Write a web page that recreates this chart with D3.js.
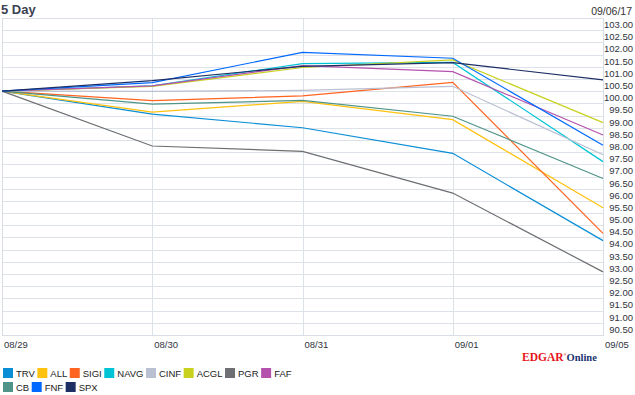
<!DOCTYPE html>
<html>
<head>
<meta charset="utf-8">
<script src="https://cdnjs.cloudflare.com/ajax/libs/d3/7.8.5/d3.min.js"></script>
<style>
  html, body { margin: 0; padding: 0; background: #fff; }
  svg { display: block; }
  text { font-family: "Liberation Sans", Arial, sans-serif; }
</style>
</head>
<body>
<svg id="chart" width="635" height="395"></svg>
<script>
// values, rebased to 100 on 08/29
var dates = ['08/29', '08/30', '08/31', '09/01', '09/05'];

var tickers = ['TRV', 'ALL', 'SIGI', 'NAVG', 'CINF', 'ACGL', 'PGR', 'FAF', 'CB', 'FNF', 'SPX'];

var trv  = [100, 99.06, 98.50, 97.45, 93.87],
    all  = [100, 99.14, 99.58, 98.83, 95.22],
    sigi = [100, 99.61, 99.81, 100.36, 94.17],
    navg = [100, 100.22, 101.13, 101.18, 97.11],
    cinf = [100, 99.99, 100.03, 100.20, 97.39],
    acgl = [100, 100.20, 100.97, 101.28, 98.71],
    pgr  = [100, 97.75, 97.53, 95.82, 92.59],
    faf  = [100, 100.22, 101.05, 100.80, 98.20],
    cb   = [100, 99.47, 99.62, 98.97, 96.42],
    fnf  = [100, 100.35, 101.59, 101.35, 97.78],
    spx  = [100, 100.43, 101.02, 101.17, 100.46];

var yTicks = [103.0, 102.5, 102.0, 101.5, 101.0, 100.5, 100.0, 99.5, 99.0, 98.5,
              98.0, 97.5, 97.0, 96.5, 96.0, 95.5, 95.0, 94.5, 94.0, 93.5,
              93.0, 92.5, 92.0, 91.5, 91.0, 90.5];

var colors = ['#0a8ed6', '#ffc20e', '#ff6420', '#00c4d6', '#b9c0d2', '#c8d21e',
              '#6e6f73', '#b452ae', '#4f9488', '#0069ff', '#1c2e64'];

(function () {
    'use strict';

    var values = [trv, all, sigi, navg, cinf, acgl, pgr, faf, cb, fnf, spx];

    var series = tickers.map(function (t, i) {
        return { name: t, color: colors[i], values: values[i] };
    });

    var left = 2, right = 603, top = 18, bottom = 335;

    var svg = d3.select('#chart');

    var x = d3.scalePoint().domain(dates).range([left, right]);
    var y = d3.scaleLinear().domain([90, 103]).range([bottom, top]);

    var grid = svg.append('g').attr('class', 'grid')
        .style('shape-rendering', 'crispEdges');

    grid.selectAll('line.h')
        .data(yTicks)
        .enter().append('line')
        .attr('class', 'h')
        .attr('x1', left).attr('x2', right)
        .attr('y1', function (d) { return Math.round(y(d)) + 0.5; })
        .attr('y2', function (d) { return Math.round(y(d)) + 0.5; })
        .style('stroke', '#dde1e8');

    grid.selectAll('line.v')
        .data(dates)
        .enter().append('line')
        .attr('class', 'v')
        .attr('y1', top).attr('y2', bottom)
        .attr('x1', function (d) { return Math.round(x(d)) + 0.5; })
        .attr('x2', function (d) { return Math.round(x(d)) + 0.5; })
        .style('stroke', '#dde1e8')
        .style('stroke-width', 1.5);

    grid.append('rect')
        .attr('x', left + 0.5).attr('y', top + 0.5)
        .attr('width', right - left).attr('height', bottom - top)
        .style('fill', 'none')
        .style('stroke', '#d9dde5');

    // right hand value labels sit just under their grid line
    var yAxis = svg.append('g').attr('class', 'y-axis');
    yAxis.selectAll('text')
        .data(yTicks)
        .enter().append('text')
        .attr('x', 633)
        .attr('y', function (d) { return Math.round(y(d)) + 10; })
        .attr('text-anchor', 'end')
        .style('font-size', '9.5px')
        .style('fill', '#2f3440')
        .text(d3.format('.2f'));

    var xAxis = svg.append('g').attr('class', 'x-axis');
    xAxis.selectAll('text')
        .data(dates)
        .enter().append('text')
        .attr('x', function (d) { return x(d) + 2; })
        .attr('y', 348)
        .style('font-size', '9.5px')
        .style('fill', '#2f3440')
        .text(function (d) { return d; });

    var line = d3.line()
        .x(function (d, i) { return x(dates[i]); })
        .y(function (d) { return y(d); });

    svg.append('g').attr('class', 'lines')
        .selectAll('path')
        .data(series)
        .enter().append('path')
        .attr('d', function (s) { return line(s.values); })
        .style('fill', 'none')
        .style('stroke', function (s) { return s.color; })
        .style('stroke-width', 1.2);

    svg.append('text')
        .attr('x', 1).attr('y', 14)
        .style('font-size', '13px')
        .style('font-weight', 'bold')
        .style('fill', '#3b4252')
        .text('5 Day');

    svg.append('text')
        .attr('x', 632).attr('y', 15)
        .attr('text-anchor', 'end')
        .style('font-size', '10.5px')
        .style('fill', '#333')
        .text('09/06/17');

    // logo
    var logo = svg.append('text')
        .attr('x', 522).attr('y', 361)
        .style('font-family', '"Liberation Serif", "Times New Roman", serif')
        .style('font-weight', 'bold');
    logo.append('tspan')
        .style('font-size', '11.5px')
        .style('fill', '#e8141c')
        .text('EDGAR');
    logo.append('tspan')
        .attr('dy', -5)
        .style('font-size', '4px')
        .style('fill', '#e8141c')
        .text('®');
    logo.append('tspan')
        .attr('dy', 5)
        .style('font-size', '10.5px')
        .style('fill', '#1c3570')
        .text('Online');

    // legend, packed left to right in two rows
    var rows = [tickers.slice(0, 8), tickers.slice(8)];
    var legend = svg.append('g').attr('class', 'legend');

    rows.forEach(function (row, r) {
        var cx = 3,
            cy = 368 + r * 14;
        row.forEach(function (name) {
            var s = series[tickers.indexOf(name)];
            var item = legend.append('g');
            item.append('rect')
                .attr('x', cx).attr('y', cy)
                .attr('width', 10).attr('height', 10)
                .style('fill', s.color);
            var label = item.append('text')
                .attr('x', cx + 13).attr('y', cy + 9)
                .style('font-size', '9.5px')
                .style('fill', '#1a1a1a')
                .text(name);
            cx += 13 + label.node().getComputedTextLength() + 2.5;
        });
    });
})();
</script>
</body>
</html>
